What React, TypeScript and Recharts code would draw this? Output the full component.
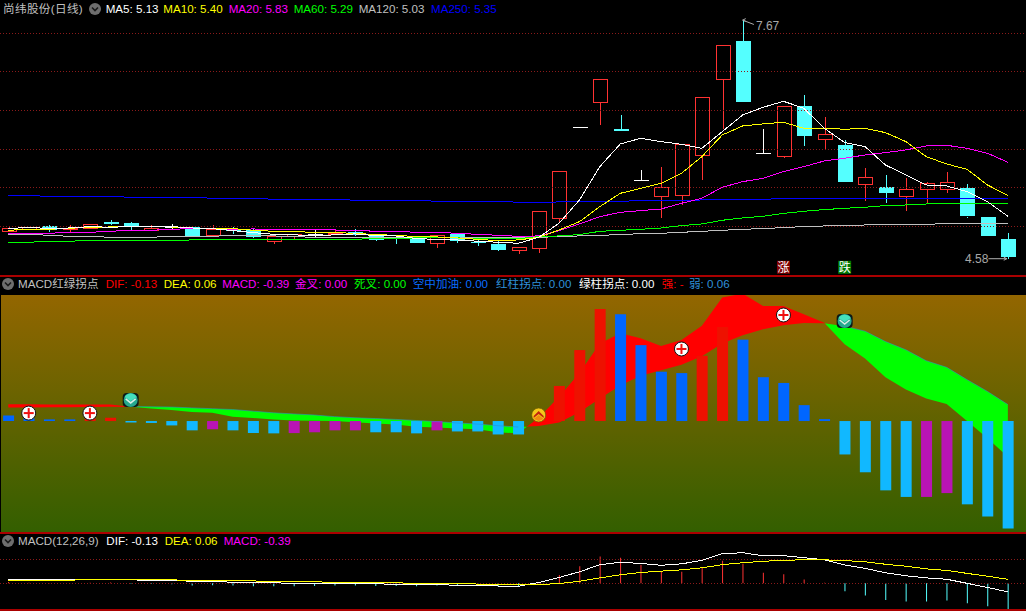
import React from "react";
import { ComposedChart, Bar, Line, Area, Cell, XAxis, YAxis, ReferenceLine, ReferenceDot } from "recharts";

const W = 1026;

const opens = [4.939,4.961,5.004,4.970,4.978,5.056,5.043,4.952,4.996,4.987,4.879,4.952,4.952,4.814,4.875,4.896,4.905,4.922,4.896,4.857,4.840,4.775,4.901,4.797,4.771,4.685,4.711,5.099,6.282,6.606,6.257,5.596,5.384,5.397,5.920,6.904,7.401,5.946,5.902,6.559,6.127,6.053,5.544,5.510,5.384,5.479,5.479,5.492,5.117,4.836];
const highs = [5.000,4.987,5.022,5.017,5.026,5.086,5.060,5.013,5.030,4.996,5.013,4.987,4.978,4.875,4.901,4.952,4.952,4.965,4.896,4.857,4.840,4.883,4.901,4.836,4.823,4.728,5.194,5.712,6.282,6.904,6.438,5.730,5.764,6.062,6.671,7.345,7.670,6.257,6.554,6.697,6.416,6.118,5.751,5.661,5.622,5.578,5.700,5.544,5.117,4.909];
const lows = [4.939,4.961,4.931,4.927,4.970,5.022,4.952,4.952,4.965,4.875,4.879,4.901,4.849,4.771,4.832,4.857,4.905,4.875,4.814,4.775,4.784,4.719,4.788,4.749,4.685,4.642,4.659,5.047,6.282,6.313,6.226,5.596,5.112,5.276,5.600,6.257,6.615,5.946,5.890,6.041,5.993,5.578,5.332,5.307,5.203,5.289,5.436,5.112,4.866,4.580];
const closes = [4.974,4.987,4.952,4.983,5.026,5.030,5.004,4.978,4.996,4.875,4.961,4.935,4.866,4.875,4.901,4.896,4.918,4.888,4.823,4.840,4.784,4.883,4.814,4.784,4.698,4.728,5.194,5.712,6.282,6.904,6.226,5.596,5.505,6.062,6.671,7.345,6.615,5.946,6.554,6.174,6.196,5.578,5.635,5.436,5.479,5.557,5.570,5.125,4.866,4.603];

const ma5 = [4.970,4.987,4.970,4.978,4.996,4.987,4.996,4.996,4.996,4.978,4.970,4.944,4.918,4.896,4.888,4.883,4.888,4.901,4.879,4.875,4.840,4.831,4.823,4.806,4.793,4.780,4.857,5.039,5.341,5.773,6.066,6.140,6.097,6.062,6.010,6.226,6.442,6.541,6.619,6.529,6.269,6.084,6.032,5.794,5.665,5.535,5.522,5.449,5.319,5.130];
const ma10 = [4.948,4.961,4.961,4.974,4.987,4.991,5.000,4.996,4.991,4.978,4.970,4.970,4.948,4.935,4.935,4.918,4.918,4.909,4.892,4.883,4.866,4.862,4.849,4.831,4.814,4.823,4.857,4.952,5.060,5.255,5.427,5.492,5.557,5.686,5.902,6.183,6.300,6.326,6.347,6.269,6.269,6.257,6.269,6.213,6.097,5.902,5.807,5.738,5.535,5.400];
const ma20 = [4.901,4.901,4.909,4.922,4.922,4.935,4.948,4.948,4.961,4.970,4.970,4.961,4.965,4.961,4.952,4.952,4.952,4.948,4.935,4.935,4.922,4.922,4.909,4.896,4.883,4.870,4.875,4.944,5.030,5.125,5.181,5.203,5.224,5.298,5.363,5.505,5.578,5.622,5.708,5.773,5.846,5.881,5.924,5.954,5.989,6.041,6.049,6.010,5.946,5.830];
const ma60 = [4.793,4.793,4.806,4.806,4.818,4.818,4.818,4.818,4.818,4.823,4.831,4.831,4.831,4.831,4.831,4.831,4.831,4.831,4.844,4.844,4.849,4.849,4.849,4.844,4.840,4.840,4.866,4.875,4.892,4.935,4.948,4.961,4.978,5.009,5.030,5.078,5.108,5.129,5.168,5.194,5.216,5.233,5.246,5.268,5.276,5.289,5.298,5.298,5.298,5.290];
const ma120 = [4.896,4.896,4.883,4.870,4.870,4.857,4.857,4.857,4.870,4.870,4.870,4.883,4.883,4.875,4.866,4.857,4.857,4.857,4.853,4.853,4.849,4.849,4.849,4.849,4.849,4.853,4.857,4.866,4.875,4.883,4.892,4.905,4.909,4.922,4.935,4.948,4.961,4.970,4.983,4.996,5.004,5.009,5.017,5.022,5.022,5.026,5.034,5.034,5.034,5.030];
const ma250 = [5.397,5.397,5.388,5.388,5.388,5.388,5.375,5.375,5.375,5.375,5.363,5.363,5.363,5.350,5.350,5.350,5.350,5.337,5.337,5.337,5.337,5.324,5.324,5.324,5.324,5.311,5.311,5.315,5.319,5.319,5.324,5.332,5.332,5.332,5.341,5.350,5.350,5.350,5.358,5.358,5.358,5.358,5.358,5.358,5.358,5.358,5.358,5.358,5.358,5.354];

const dif = [0.061,0.061,0.060,0.060,0.060,0.060,0.052,0.046,0.040,0.033,0.030,0.016,0.011,0.006,0.002,0.001,0,-0.004,-0.009,-0.013,-0.021,-0.024,-0.027,-0.030,-0.041,-0.045,0.012,0.089,0.175,0.283,0.320,0.302,0.274,0.296,0.348,0.451,0.465,0.420,0.420,0.390,0.359,0.280,0.228,0.160,0.115,0.082,0.062,0,-0.063,-0.130];
const dea = [0.049,0.049,0.050,0.050,0.051,0.052,0.053,0.052,0.051,0.048,0.045,0.042,0.036,0.030,0.026,0.022,0.016,0.012,0.009,0.006,0.002,-0.002,-0.007,-0.011,-0.017,-0.022,-0.018,-0.005,0.032,0.082,0.130,0.165,0.185,0.205,0.236,0.283,0.313,0.335,0.350,0.358,0.357,0.346,0.328,0.290,0.260,0.220,0.196,0.151,0.108,0.060];
const macd = [0.020,0.010,0.006,0.006,0.010,0.012,-0.005,-0.007,-0.016,-0.034,-0.030,-0.034,-0.044,-0.045,-0.044,-0.041,-0.034,-0.034,-0.041,-0.041,-0.045,-0.034,-0.038,-0.038,-0.049,-0.049,0.005,0.128,0.259,0.409,0.390,0.277,0.180,0.175,0.238,0.343,0.297,0.160,0.139,0.058,0.007,-0.122,-0.187,-0.253,-0.277,-0.277,-0.263,-0.304,-0.348,-0.392];
const barKinds = "BBBBRRCCCCPCCCPPPPCCCPCCCCRRRRBBBBRRBBBBBCCCCPPCCC";

const plusIndex = [1, 4, 33, 38];
const plusValue = [0.029, 0.029, 0.263, 0.387];
const downIndex = [6, 41];
const downValue = [0.077, 0.365];
const upIndex = [26];
const upValue = [0.022];

const priceGrid = [7.5, 7, 6.5, 6, 5.5, 5];
const macdGrid = [0.365, 0];

const titlePrice = "尚纬股份(日线)";
const titleBand = "MACD红绿拐点";
const titleMacd = "MACD(12,26,9)";
const priceLegend: [string, string, number][] = [["MA5: 5.13","#ffffff",105.7],["MA10: 5.40","#ffff00",163.3],["MA20: 5.83","#ff00ff",228.7],["MA60: 5.29","#00ff00",293.7],["MA120: 5.03","#c0c0c0",358.7],["MA250: 5.35","#0000ff",431]];
const bandLegend: [string, string, number][] = [["DIF: -0.13","#ff0000",105.7],["DEA: 0.06","#ffff00",163.7],["MACD: -0.39","#ff00ff",222.3],["金叉: 0.00","#ff00ff",295],["死叉: 0.00","#00ff00",354],["空中加油: 0.00","#0a6cff",412.7],["红柱拐点: 0.00","#2f90d8",496],["绿柱拐点: 0.00","#ffffff",579],["强: -","#ff0000",661.7],["弱: 0.06","#2f90d8",689]];
const macdLegend: [string, string, number][] = [["DIF: -0.13","#ffffff",106.3],["DEA: 0.06","#ffff00",164.7],["MACD: -0.39","#ff00ff",223.7]];

const rows = opens.map((o, i) => ({
  i, o, h: highs[i], l: lows[i], c: closes[i],
  ma5: ma5[i], ma10: ma10[i], ma20: ma20[i], ma60: ma60[i], ma120: ma120[i], ma250: ma250[i],
  dif: dif[i], dea: dea[i], macd: macd[i],
  deaEdge: dif[i] < dea[i] ? dea[i] : null,
  plus: plusIndex.includes(i) ? plusValue[plusIndex.indexOf(i)] : null,
  down: downIndex.includes(i) ? downValue[downIndex.indexOf(i)] : null,
  up: upIndex.includes(i) ? upValue[upIndex.indexOf(i)] : null,
}));

const xDomain: [number, number] = [-0.407, 49.89];
const barColors: Record<string, string> = { R: "#ee1100", B: "#0066ff", C: "#11b8ff", P: "#b914b4" };

const last = rows.length - 1;
const stops: { offset: number; color: string }[] = [];
{
  const RED = "#ff0000";
  const GREEN = "#00ff00";
  let cur = dif[0] >= dea[0] ? RED : GREEN;
  stops.push({ offset: 0, color: cur });
  for (let i = 1; i <= last; i++) {
    const a = dif[i - 1] - dea[i - 1];
    const b = dif[i] - dea[i];
    if (a * b < 0) {
      const f = (i - 1 + a / (a - b)) / last;
      const next = cur === RED ? GREEN : RED;
      stops.push({ offset: f, color: cur });
      stops.push({ offset: f, color: next });
      cur = next;
    }
  }
  stops.push({ offset: 1, color: cur });
}

const font = '"Liberation Sans", "Noto Sans CJK SC", sans-serif';
const crisp = "crispEdges";

function Candle(props: any) {
  const { x, y, width, height, payload } = props;
  const { o, h, l, c } = payload;
  const cx = Math.round(x + width / 2);
  const range = h - l;
  const top = Math.min(y, y + height);
  const span = Math.abs(height);
  const yOf = (p: number) => (range === 0 ? top : top + ((h - p) / range) * span);
  const yo = yOf(o);
  const yc = yOf(c);
  const bt = Math.min(yo, yc);
  const bb = Math.max(yo, yc);
  const up = c > o;
  const down = c < o;
  const doji = !up && !down;
  const left = cx - 7;
  const bw = 14;
  const col = doji ? "#ffffff" : up ? "#ff3232" : "#54ffff";
  if (doji) {
    return (
      <g shapeRendering={crisp}>
        {span > 0 && <line x1={cx + 0.5} x2={cx + 0.5} y1={top} y2={top + span} stroke={col} />}
        <line x1={left} x2={left + bw + 1} y1={Math.round(bt) + 0.5} y2={Math.round(bt) + 0.5} stroke={col} />
      </g>
    );
  }
  return (
    <g shapeRendering={crisp}>
      <line x1={cx + 0.5} x2={cx + 0.5} y1={top} y2={bt} stroke={col} />
      <line x1={cx + 0.5} x2={cx + 0.5} y1={bb} y2={top + span} stroke={col} />
      {up ? (
        <rect x={left + 0.5} y={Math.round(bt) + 0.5} width={bw} height={Math.max(1, Math.round(bb - bt))} fill="#000000" stroke={col} />
      ) : (
        <rect x={left} y={Math.round(bt)} width={bw + 1} height={Math.max(1, Math.round(bb - bt))} fill={col} />
      )}
    </g>
  );
}

function PlusDot(props: any) {
  const { cx, cy, value } = props;
  if (value == null || cy == null) return <g key={props.key} />;
  return (
    <g key={props.key}>
      <circle cx={cx} cy={cy} r={7} fill="#ffffff" stroke="#111111" strokeWidth={1} />
      <rect x={cx - 5} y={cy - 1} width={10} height={2} fill="#f01010" />
      <rect x={cx - 1} y={cy - 5} width={2} height={10} fill="#f01010" />
    </g>
  );
}

function DownDot(props: any) {
  const { cx, cy, value } = props;
  if (value == null || cy == null) return <g key={props.key} />;
  return (
    <g key={props.key}>
      <rect x={cx - 8} y={cy - 7} width={16} height={14} rx={4} fill="#0c1a18" />
      <circle cx={cx} cy={cy} r={7} fill="#26a88e" />
      <path d={`M${cx - 6} ${cy - 3}A7 7 0 0 1 ${cx + 6} ${cy - 3}L${cx} ${cy + 1}Z`} fill="#45e0bd" />
      <path d={`M${cx - 5} ${cy - 1}L${cx} ${cy + 3}L${cx + 5} ${cy - 1}`} fill="none" stroke="#d9efe8" strokeWidth={1.5} />
    </g>
  );
}

function UpDot(props: any) {
  const { cx, cy, value } = props;
  if (value == null || cy == null) return <g key={props.key} />;
  return (
    <g key={props.key}>
      <circle cx={cx} cy={cy} r={7} fill="#f5c81a" stroke="#6a5a00" strokeWidth={0.7} />
      <path d={`M${cx - 5} ${cy + 1}L${cx} ${cy - 4}L${cx + 5} ${cy + 1}L${cx + 5} ${cy + 3}L${cx} ${cy - 1}L${cx - 5} ${cy + 3}Z`} fill="#c22410" />
      <path d={`M${cx - 5} ${cy + 4}L${cx} ${cy}L${cx + 5} ${cy + 4}L${cx} ${cy + 6}Z`} fill="#f08a10" />
    </g>
  );
}

function TagShape(props: any) {
  const { cx, cy, fill, text } = props;
  return (
    <g>
      <rect x={cx - 6.5} y={cy - 6.5} width={13} height={13} fill={fill} />
      <text x={cx} y={cy + 4.5} textAnchor="middle" fontSize={12} fill="#ffffff" fontFamily={font}>{text}</text>
    </g>
  );
}

function Chevron({ cx, cy }: { cx: number; cy: number }) {
  return (
    <svg style={{ position: "absolute", left: cx - 7, top: cy - 7 }} width={14} height={14}>
      <circle cx={7} cy={7} r={6} fill="#6e6e6e" />
      <path d="M4 5.5L7 8.5L10 5.5" fill="none" stroke="#1a1a1a" strokeWidth={1.6} />
    </svg>
  );
}

function Label({ x, y, color, spacing = 0, children }: { x: number; y: number; color: string; spacing?: number; children: React.ReactNode }) {
  return (
    <span style={{ position: "absolute", left: x, top: y - 7, height: 14, lineHeight: "14px", fontSize: 11.6, letterSpacing: spacing, whiteSpace: "pre", color, fontFamily: font }}>
      {children}
    </span>
  );
}

const Rule = ({ top, height = 1, color = "#aa0000" }: { top: number; height?: number; color?: string }) => (
  <div style={{ position: "absolute", left: 0, top, width: W, height, background: color }} />
);

const maLine = (key: string, color: string) => (
  <Line key={key} dataKey={key} stroke={color} strokeWidth={1} dot={false} activeDot={false} shapeRendering={crisp} isAnimationActive={false} />
);

export default function App() {
  const axes = (domain: [number, number]) => [
    <XAxis key="x" dataKey="i" type="number" domain={xDomain} allowDataOverflow hide />,
    <YAxis key="y" type="number" domain={domain} allowDataOverflow hide width={0} />,
  ];
  return (
    <div style={{ position: "absolute", left: 0, top: 0, width: W, height: 611, background: "#000000", overflow: "hidden" }}>
      <div style={{ position: "absolute", left: 1, top: 295, width: W - 1, height: 237, background: "linear-gradient(180deg, #936600 0%, #335f00 100%)" }} />

      <div style={{ position: "absolute", left: 0, top: 0 }}>
        <ComposedChart width={W} height={276} data={rows} margin={{ top: 0, right: 0, bottom: 0, left: 0 }} barGap={0}>
          {axes([4.356, 7.931])}
          {priceGrid.map((v) => (
            <ReferenceLine key={v} y={v} stroke="#8a1a1a" strokeDasharray="1 2" shapeRendering={crisp} />
          ))}
          <Bar dataKey={(r: any) => [r.l, r.h]} barSize={15} shape={Candle} isAnimationActive={false} />
          {maLine("ma250", "#0000ff")}
          {maLine("ma120", "#c0c0c0")}
          {maLine("ma60", "#00ff00")}
          {maLine("ma20", "#ff00ff")}
          {maLine("ma10", "#ffff00")}
          {maLine("ma5", "#ffffff")}
          <ReferenceLine segment={[{ x: 36, y: 7.67 }, { x: 36.55, y: 7.614 }]} stroke="#b0b0b0" ifOverflow="visible" />
          <ReferenceLine segment={[{ x: 36, y: 7.67 }, { x: 36.15, y: 7.655 }]} stroke="#b0b0b0" ifOverflow="visible" />
          <ReferenceLine segment={[{ x: 36, y: 7.67 }, { x: 36.15, y: 7.69 }]} stroke="#b0b0b0" ifOverflow="visible" />
          <ReferenceDot x={36.6} y={7.6} r={0} fill="none" stroke="none" ifOverflow="visible" label={{ value: "7.67", position: "right", fill: "#a8a8a8", fontSize: 12, fontFamily: font, offset: 1 }} />
          <ReferenceLine segment={[{ x: 48.05, y: 4.58 }, { x: 48.95, y: 4.58 }]} stroke="#b0b0b0" ifOverflow="visible" />
          <ReferenceLine segment={[{ x: 48.95, y: 4.58 }, { x: 48.8, y: 4.6 }]} stroke="#b0b0b0" ifOverflow="visible" />
          <ReferenceLine segment={[{ x: 48.95, y: 4.58 }, { x: 48.8, y: 4.56 }]} stroke="#b0b0b0" ifOverflow="visible" />
          <ReferenceDot x={48.05} y={4.58} r={0} fill="none" stroke="none" ifOverflow="visible" label={{ value: "4.58", position: "left", fill: "#a8a8a8", fontSize: 12, fontFamily: font, offset: 0 }} />
          <ReferenceDot x={38} y={4.469} ifOverflow="visible" shape={(p: any) => <TagShape {...p} fill="#800000" text="涨" />} />
          <ReferenceDot x={41} y={4.469} ifOverflow="visible" shape={(p: any) => <TagShape {...p} fill="#007a00" text="跌" />} />
        </ComposedChart>
      </div>

      <div style={{ position: "absolute", left: 0, top: 295 }}>
        <ComposedChart width={W} height={237} data={rows} margin={{ top: 0, right: 0, bottom: 0, left: 0 }}>
          <defs>
            <linearGradient id="crossFill" x1="0" y1="0" x2="1" y2="0">
              {stops.map((s, k) => (
                <stop key={k} offset={s.offset} stopColor={s.color} />
              ))}
            </linearGradient>
          </defs>
          {axes([-0.405, 0.46])}
          <Area dataKey={(r: any) => [r.dea, r.dif]} type="linear" fill="url(#crossFill)" fillOpacity={1} stroke="none" dot={false} activeDot={false} isAnimationActive={false} />
          <Line dataKey="deaEdge" stroke="#2a8ed0" strokeOpacity={0.55} strokeWidth={1} dot={false} activeDot={false} connectNulls={false} isAnimationActive={false} />
          <Bar dataKey="macd" barSize={11} isAnimationActive={false}>
            {rows.map((r) => (
              <Cell key={r.i} fill={barColors[barKinds[r.i]]} />
            ))}
          </Bar>
          <Line dataKey="plus" stroke="none" dot={PlusDot} activeDot={false} isAnimationActive={false} />
          <Line dataKey="down" stroke="none" dot={DownDot} activeDot={false} isAnimationActive={false} />
          <Line dataKey="up" stroke="none" dot={UpDot} activeDot={false} isAnimationActive={false} />
        </ComposedChart>
      </div>

      <div style={{ position: "absolute", left: 0, top: 534 }}>
        <ComposedChart width={W} height={76} data={rows} margin={{ top: 0, right: 0, bottom: 0, left: 0 }}>
          {axes([-0.406, 0.75])}
          {macdGrid.map((v) => (
            <ReferenceLine key={v} y={v} stroke="#8a1a1a" strokeDasharray="1 2" shapeRendering={crisp} />
          ))}
          <Bar dataKey="macd" barSize={1} isAnimationActive={false}>
            {rows.map((r) => (
              <Cell key={r.i} fill={r.macd >= 0 ? "#ff3232" : "#54ffff"} />
            ))}
          </Bar>
          {maLine("dif", "#ffffff")}
          {maLine("dea", "#ffff00")}
        </ComposedChart>
      </div>

      <Rule top={275} height={1} />
      <Rule top={276} height={1} />
      <Rule top={532} height={2} />
      <Rule top={609} height={2} />

      <Label x={3} y={9} color="#c0c0c0" spacing={0.35}>{titlePrice}</Label>
      <Chevron cx={95} cy={9} />
      {priceLegend.map(([t, c, x]) => (
        <Label key={t} x={x} y={9} color={c}>{t}</Label>
      ))}

      <Chevron cx={8} cy={284} />
      <Label x={18} y={284} color="#c0c0c0">{titleBand}</Label>
      {bandLegend.map(([t, c, x]) => (
        <Label key={t} x={x} y={284} color={c}>{t}</Label>
      ))}

      <Chevron cx={8} cy={541} />
      <Label x={18} y={541} color="#c0c0c0">{titleMacd}</Label>
      {macdLegend.map(([t, c, x]) => (
        <Label key={t} x={x} y={541} color={c}>{t}</Label>
      ))}
    </div>
  );
}
